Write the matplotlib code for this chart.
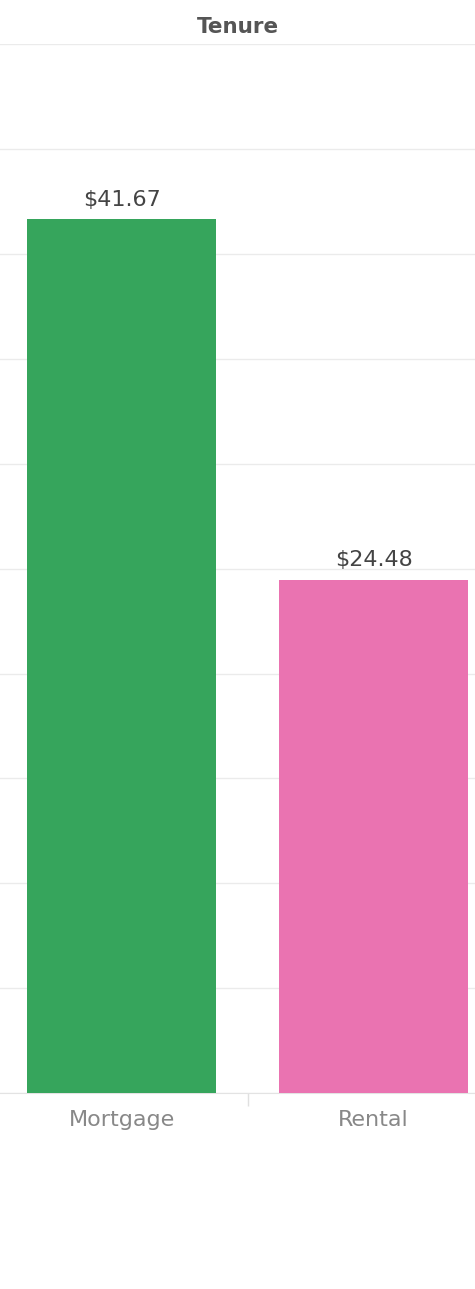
import numpy as np
import matplotlib.pyplot as plt

# data
categories = ['Mortgage', 'Rental']
values = [41.67, 24.48]
colors = ['#36a55c', '#ea73b1']
value_labels = ['$41.67', '$24.48']

plt.rcParams['font.family'] = ['DejaVu Sans']

fig = plt.figure(figsize=(4.75, 12.89), dpi=100)
ax = fig.add_axes([0.0, 0.152, 1.0, 0.8135])

x = np.arange(len(categories))
ax.bar(x, values, width=0.75, color=colors, zorder=3)

for xi, v, lab in zip(x, values, value_labels):
    ax.text(xi, v + 0.45, lab, ha='center', va='bottom', fontsize=16, color='#444444')

ax.set_xlim(-0.482, 1.402)
ax.set_ylim(0, 50)
ax.set_yticks(np.arange(0, 51, 5))
ax.yaxis.grid(True, color='#ebebeb', linewidth=1, zorder=0)
ax.tick_params(axis='y', left=False, labelleft=False)

ax.set_xticks(x)
ax.set_xticklabels(categories, fontsize=16, color='#888888')
ax.tick_params(axis='x', length=0, pad=12)
# separator tick between categories
ax.set_xticks([0.5], minor=True)
ax.tick_params(axis='x', which='minor', length=9, color='#e0e0e0', width=1)

for s in ['top', 'right', 'left']:
    ax.spines[s].set_visible(False)
ax.spines['bottom'].set_color('#e3e3e3')

fig.text(0.5, 1 - 27 / 1289, 'Tenure', ha='center', va='center',
         fontsize=15.5, fontweight='bold', color='#555555')

fig.savefig('out.png', dpi=100)
